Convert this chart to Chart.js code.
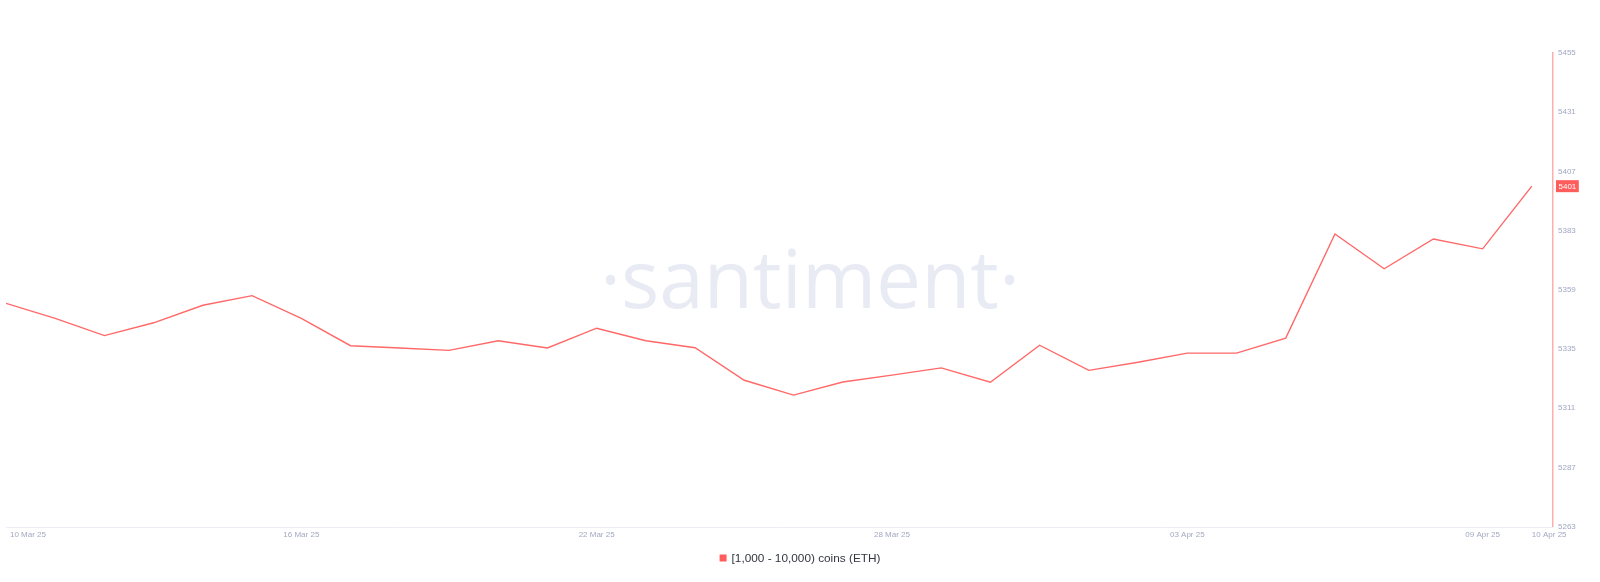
<!DOCTYPE html>
<html><head><meta charset="utf-8">
<script src="https://cdn.jsdelivr.net/npm/chart.js@4"></script>
<style>html,body{margin:0;padding:0;background:#fff;overflow:hidden}</style>
</head><body>
<canvas id="c" width="1600" height="582" style="width:1600px;height:582px;display:block"></canvas>
<script>
const dates = ['10 Mar 25','11 Mar 25','12 Mar 25','13 Mar 25','14 Mar 25','15 Mar 25','16 Mar 25','17 Mar 25','18 Mar 25','19 Mar 25','20 Mar 25','21 Mar 25','22 Mar 25','23 Mar 25','24 Mar 25','25 Mar 25','26 Mar 25','27 Mar 25','28 Mar 25','29 Mar 25','30 Mar 25','31 Mar 25','01 Apr 25','02 Apr 25','03 Apr 25','04 Apr 25','05 Apr 25','06 Apr 25','07 Apr 25','08 Apr 25','09 Apr 25','10 Apr 25'];
const values = [5353.5,5347.4,5340.4,5345.6,5352.7,5356.6,5347.4,5336.3,5335.4,5334.4,5338.3,5335.4,5343.4,5338.3,5335.5,5322.3,5316.3,5321.6,5324.4,5327.3,5321.5,5336.5,5326.3,5329.6,5333.3,5333.3,5339.4,5381.6,5367.5,5379.6,5375.6,5401];
const xTickDates = ['10 Mar 25','16 Mar 25','22 Mar 25','28 Mar 25','03 Apr 25','09 Apr 25','10 Apr 25'];
const yTicks = [5263,5287,5311,5335,5359,5383,5407,5431,5455];
const seriesName = '[1,000 - 10,000) coins (ETH)';

const FONT = '"Liberation Sans", Arial, sans-serif';
const LINE = 'rgb(255,104,104)';
const TICK = '#a1a8c2';

const points = values.map((v, i) => ({x: i, y: v}));

const deco = {
  id: 'deco',
  beforeDatasetsDraw(chart) {
    const ctx = chart.ctx, a = chart.chartArea;
    ctx.save();
    // watermark
    ctx.fillStyle = '#e8ebf3';
    ctx.font = '400 100px "Open Sans"';
    const w = ctx.measureText('santiment').width;
    const size = 100 * 378 / w;
    ctx.font = '400 ' + size.toFixed(1) + 'px "Open Sans"';
    ctx.textAlign = 'center';
    ctx.textBaseline = 'alphabetic';
    ctx.fillText('\u00B7santiment\u00B7', 810, 308);
    // baseline
    ctx.strokeStyle = '#eceef5';
    ctx.lineWidth = 1;
    ctx.beginPath();
    ctx.moveTo(a.left, Math.round(a.bottom) + 0.5);
    ctx.lineTo(a.right, Math.round(a.bottom) + 0.5);
    ctx.stroke();
    ctx.restore();
  },
  afterDraw(chart) {
    const ctx = chart.ctx, a = chart.chartArea;
    const xs = chart.scales.x, ys = chart.scales.y;
    ctx.save();
    // x labels
    ctx.font = '8px ' + FONT;
    ctx.fillStyle = TICK;
    ctx.textBaseline = 'middle';
    ctx.textAlign = 'left';
    xTickDates.forEach((d, k) => {
      const i = dates.indexOf(d);
      const px = xs.getPixelForValue(i);
      const tw = ctx.measureText(d).width;
      let left = px - tw / 2;
      if (k === 0) left = Math.max(left, 10);
      if (k === xTickDates.length - 1) left = px;
      ctx.fillText(d, left, 535);
    });
    // last value badge
    const last = values[values.length - 1];
    const py = ys.getPixelForValue(last);
    const txt = String(Math.round(last));
    ctx.font = '8px ' + FONT;
    const bw = ctx.measureText(txt).width + 5;
    ctx.fillStyle = '#ff5c5c';
    ctx.fillRect(a.right + 3, py - 6, bw, 12);
    ctx.fillStyle = '#ffffff';
    ctx.fillText(txt, a.right + 5.5, py + 0.5);
    // legend
    ctx.font = '11.8px ' + FONT;
    const lw = ctx.measureText(seriesName).width;
    const total = 7 + 5 + lw;
    const lx = 800 - total / 2;
    ctx.fillStyle = '#ff5c5c';
    ctx.fillRect(lx, 554.5, 7, 7);
    ctx.fillStyle = '#33363f';
    ctx.fillText(seriesName, lx + 12, 558.5);
    ctx.restore();
  }
};

new Chart(document.getElementById('c'), {
  type: 'line',
  data: {
    labels: dates,
    datasets: [{
      label: seriesName,
      data: points,
      borderColor: LINE,
      borderWidth: 1.4,
      pointRadius: 0,
      tension: 0,
      fill: false
    }]
  },
  options: {
    responsive: false,
    animation: false,
    devicePixelRatio: 1,
    layout: {padding: {left: 6, top: 53, right: 0, bottom: 55.5}},
    plugins: {legend: {display: false}, tooltip: {enabled: false}},
    scales: {
      x: {type: 'linear', display: false, min: 0, max: 31.43},
      y: {
        position: 'right',
        min: yTicks[0],
        max: yTicks[yTicks.length - 1],
        afterBuildTicks: s => { s.ticks = yTicks.map(v => ({value: v})); },
        afterFit: s => { s.width = 47; },
        grid: {display: false, drawTicks: false},
        border: {display: true, color: 'rgba(255,120,120,0.6)', width: 1.5},
        ticks: {color: TICK, font: {size: 8, family: FONT}, padding: 5, callback: v => String(v)}
      }
    }
  },
  plugins: [deco]
});
</script>
</body></html>
